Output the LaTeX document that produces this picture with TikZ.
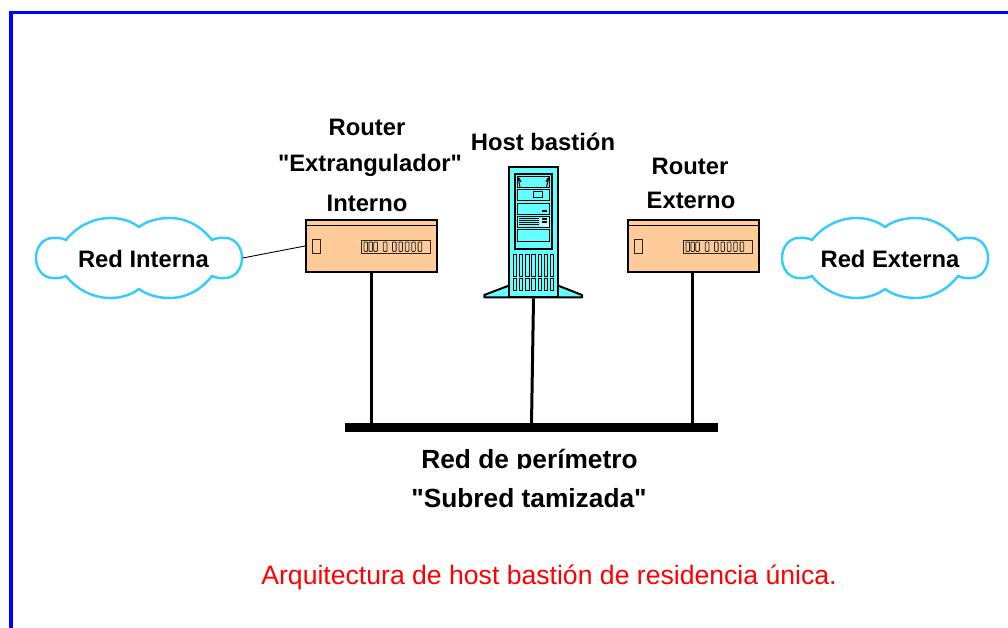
\documentclass[tikz,border=0pt]{standalone}
\usepackage{fontspec}
\setmainfont{Liberation Sans}
\newfontfamily\plainf{Liberation Sans}
\definecolor{routerfill}{HTML}{FFCC99}
\definecolor{srvfill}{HTML}{66FFFF}
\definecolor{cloudline}{HTML}{33CCFF}
\tikzset{
  lbl/.style={font=\plainf\fontsize{23.8}{27}\selectfont\bfseries,inner sep=0pt,text=black},
  biglbl/.style={font=\plainf\fontsize{26.3}{30}\selectfont\bfseries,inner sep=0pt,text=black},
  routerbox/.style={draw=black,line width=2pt,fill=routerfill,minimum width=131pt,minimum height=52pt,inner sep=0pt},
  cloudbox/.style={minimum width=207pt,minimum height=79pt,inner sep=0pt},
  srvbox/.style={draw=black,line width=2pt,fill=srvfill,minimum width=49.6pt,minimum height=130pt,inner sep=0pt},
  thin part/.style={draw=black!85,line width=1pt},
  stem/.style={draw=black,line width=3pt},
  cloudshape/.pic={
    \draw[cloudline,line width=2.4pt,fill=white]
      (-73,-18) .. controls (-77,-20) and (-82,-20.5) .. (-87,-20)
      .. controls (-96,-19.5) and (-103,-11) .. (-103,0)
      .. controls (-103,11) and (-96,19.5) .. (-87,20)
      .. controls (-82,20.5) and (-77,20) .. (-73,18)
      .. controls (-62,32) and (-45,40) .. (-29,40)
      .. controls (-18,40) and (-8,37) .. (0,31)
      .. controls (8,37) and (19,40) .. (31,40)
      .. controls (47,40) and (62,32) .. (73,18)
      .. controls (77,20) and (82,20.5) .. (87,20)
      .. controls (96,19.5) and (103,11) .. (103,0)
      .. controls (103,-11) and (96,-19.5) .. (87,-20)
      .. controls (82,-20.5) and (77,-20) .. (73,-18)
      .. controls (62,-32) and (47,-40) .. (31,-40)
      .. controls (19,-40) and (8,-37) .. (0,-31)
      .. controls (-8,-37) and (-18,-40) .. (-29,-40)
      .. controls (-45,-40) and (-62,-32) .. (-73,-18) -- cycle;
  },
  routerparts/.pic={
    \draw[black,line width=1pt] (-65.5,-20) -- (65.5,-20);
    \draw[thin part] (-59,-6.7) rectangle (-51.5,7.3);
    \draw[thin part] (-10,-6) rectangle (59,7.3);
    \foreach \d in {-7.5,-2.6,2.3,11.8,21,27.4,33.8,40.2,46.6}
      \draw[black!85,line width=.8pt,rounded corners=.8pt] (\d,-4) rectangle ++(3.6,9.4);
  }
}
\begin{document}
\begin{tikzpicture}[x=1pt,y=-1pt]
\useasboundingbox (0,0) rectangle (1008,628);
\fill[white] (0,0) rectangle (1008,628);
% frame
\coordinate (ftop) at (1008,12.5);
\coordinate (fcorner) at (11,12.5);
\coordinate (fbottom) at (11,628);
\draw[blue,line width=3.2pt] (ftop) -- (fcorner) -- (fbottom);

% clouds
\node[cloudbox] (cl) at (139,258) {};
\node[cloudbox] (cr) at (885,258) {};
\pic at (cl) {cloudshape};
\pic at (cr) {cloudshape};
\node[lbl] (tcl) at (143.5,259) {Red Interna};
\node[lbl] (tcr) at (890,259) {Red Externa};

% perimeter bar
\node[fill=black,minimum width=373pt,minimum height=8.4pt,inner sep=0pt] (bar) at (531.5,427.5) {};

% routers
\node[routerbox] (r1) at (371.5,246) {};
\node[routerbox] (r2) at (693.5,246) {};
\pic at (r1) {routerparts};
\pic at (r2) {routerparts};

% server
\draw[black,line width=2pt,fill=srvfill,line join=round]
  (508.7,285.7) -- (484.3,295) -- (484.3,297.3) -- (582,297.3) -- (582,295) -- (558.3,285.7) -- cycle;
\node[srvbox] (srv) at (533.5,232.3) {};
\draw[black,line width=2pt] (515,174) rectangle (551.7,249.3);
\begin{scope}[black,line width=1pt]
  \draw (517.7,176.7) rectangle (549,187.3);
  \draw (518,177) -- (520,187) (549,177) -- (546.5,187) (519,178) -- (521,182) (548,178) -- (546,182);
  \draw (517.7,189.3) rectangle (549,200.7);
  \draw (533,192) rectangle (542.5,197.5);
  \draw (517.7,203.3) rectangle (549,214.3);
  \fill (541.5,210) rectangle (547,212.5);
  \draw (517.7,216.7) rectangle (549,227.7);
  \foreach \y in {218.5,220.5,222.5,224.5} \draw[line width=.7pt] (518.5,\y) -- (539,\y);
  \fill[white!60!srvfill] (539.5,218) rectangle (548.5,227);
  \fill (541.5,218.5) rectangle (547,220.5);
  \fill (541.5,221.5) rectangle (547,223.5);
  \draw (517.7,230) rectangle (549,241);
  \foreach \i in {0,...,6} {
    \draw (513.4+\i*6.15,254) rectangle ++(3.4,22);
    \draw (513.4+\i*6.15,278.3) rectangle ++(3.4,11.7);
  }
\end{scope}

% connectors
\coordinate (b1) at (371.5,424);
\coordinate (b2) at (531.5,424);
\coordinate (b3) at (692,424);
\draw[black,line width=.9pt] (cl.east) -- (r1.west);
\draw[stem] (r1.south) -- (b1);
\draw[stem] (srv.south) -- (b2);
\draw[stem] ([xshift=-1.5pt]r2.south) -- (b3);

% labels
\node[lbl] (t1) at (367,127) {Router};
\node[lbl] (t2) at (370,165) {"Extrangulador"};
\node[lbl] (t3) at (367,203) {Interno};
\node[lbl] (t4) at (543,142) {Host bastión};
\node[lbl] (t5) at (690,166) {Router};
\node[lbl] (t6) at (691,200) {Externo};
\begin{scope}
  \clip (380,440) rectangle (680,468.5);
  \node[biglbl,anchor=base] (t7) at (529.5,468) {Red de perímetro};
\end{scope}
\node[biglbl,anchor=base] (t8) at (529,507) {"Subred tamizada"};
\node[inner sep=0pt,text=red,font=\plainf\fontsize{26.6}{30}\selectfont] (t9) at (549,577) {Arquitectura de host bastión de residencia única.};
\end{tikzpicture}
\end{document}
